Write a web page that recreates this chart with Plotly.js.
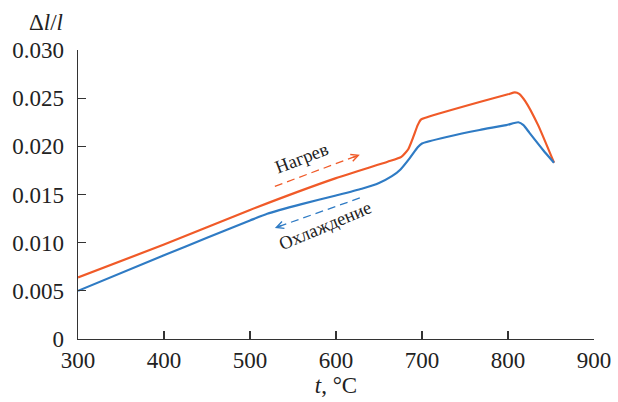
<!DOCTYPE html>
<html>
<head>
<meta charset="utf-8">
<script src="https://cdn.plot.ly/plotly-3.0.1.min.js"></script>
<style>html,body{margin:0;padding:0;background:#fff;}#chart{width:618px;height:402px;}</style>
</head>
<body>
<div id="chart"></div>
<script>
// Heating curve (Нагрев)
const heatT = [300, 400, 500, 600, 660, 676, 684, 690, 695, 699, 705, 767, 800, 808, 813, 820, 835, 853.5];
const heatV = [0.0064, 0.0098, 0.0134, 0.0167, 0.0184, 0.0189, 0.0197, 0.0210, 0.0222, 0.0228, 0.0230, 0.0246, 0.0254, 0.0256, 0.02545, 0.0247, 0.0222, 0.0183];
// Cooling curve (Охлаждение)
const coolT = [300, 400, 450, 500, 520, 560, 600, 630, 650, 665, 675, 686, 695, 700, 730, 767, 798, 812, 818, 825, 841, 853.5];
const coolV = [0.0050, 0.0087, 0.0105, 0.0123, 0.0130, 0.0140, 0.0149, 0.0156, 0.0162, 0.0169, 0.0176, 0.0188, 0.0199, 0.0203, 0.0210, 0.0217, 0.0222, 0.0225, 0.0222, 0.0214, 0.0196, 0.0183];
// Axis ticks
const xTicks = [300, 400, 500, 600, 700, 800, 900];
const yTicks = [0, 0.005, 0.010, 0.015, 0.020, 0.025, 0.030];
const yTickText = ['0', '0.005', '0.010', '0.015', '0.020', '0.025', '0.030'];
// Labels
const heatLabel = 'Нагрев';
const coolLabel = 'Охлаждение';
// Arrow anchors (data coords): [tailT, tailV, headT, headV]
const heatArrow = [528.9, 0.01585, 627.7, 0.01912];
const coolArrow = [627.7, 0.01464, 528.9, 0.01153];
const heatLabelPos = [561, 0.01878];
const coolLabelPos = [587, 0.01174];

const orange = '#f05a28';
const blue = '#2f7bc4';
const serif = 'Liberation Serif, Times New Roman, serif';

const traces = [
  {x: heatT, y: heatV, mode: 'lines', line: {color: orange, width: 2.2, shape: 'spline', smoothing: 0.5}, hoverinfo: 'skip'},
  {x: coolT, y: coolV, mode: 'lines', line: {color: blue, width: 2.2, shape: 'spline', smoothing: 0.5}, hoverinfo: 'skip'}
];

function arrowHead(arr, color) {
  const dx = arr[2] - arr[0];
  const dyPx = (arr[3] - arr[1]) * 9660; // up is positive
  const dxPx = dx * 0.8595;
  const len = Math.sqrt(dxPx * dxPx + dyPx * dyPx);
  return {
    x: arr[2], y: arr[3], xref: 'x', yref: 'y', text: '', showarrow: true,
    ax: -dxPx / len * 9, ay: dyPx / len * 9,
    arrowhead: 5, arrowsize: 1.1, arrowwidth: 1.3, arrowcolor: color
  };
}

const plotW = 618 - 78 - 24, plotH = 402 - 50 - 63;

const layout = {
  width: 618, height: 402,
  margin: {l: 78, r: 24, t: 50, b: 63},
  paper_bgcolor: '#fff', plot_bgcolor: '#fff',
  showlegend: false,
  font: {family: serif, size: 23, color: '#222'},
  xaxis: {
    range: [300, 900], tickvals: xTicks, ticktext: xTicks.map(String),
    ticks: 'inside', ticklen: 8, tickwidth: 1.3, tickcolor: '#333',
    showline: true, linecolor: '#333', linewidth: 1.3,
    showgrid: false, zeroline: false,
    tickfont: {family: serif, size: 23, color: '#222'},
    title: {text: '<i>t</i>, °C', font: {family: serif, size: 23, color: '#222'}, standoff: 5}
  },
  yaxis: {
    range: [0, 0.030], tickvals: yTicks, ticktext: yTickText,
    ticks: 'inside', ticklen: 8, tickwidth: 1.3, tickcolor: '#333',
    showline: true, linecolor: '#333', linewidth: 1.3,
    showgrid: false, zeroline: false, ticklabelstandoff: 8,
    tickfont: {family: serif, size: 23, color: '#222'}
  },
  shapes: [
    {type: 'line', xref: 'x', yref: 'y', x0: heatArrow[0], y0: heatArrow[1], x1: heatArrow[2], y1: heatArrow[3],
     line: {color: orange, width: 1.3, dash: '8px,5px'}},
    {type: 'line', xref: 'x', yref: 'y', x0: coolArrow[0], y0: coolArrow[1], x1: coolArrow[2], y1: coolArrow[3],
     line: {color: blue, width: 1.3, dash: '8px,5px'}}
  ],
  annotations: [
    arrowHead(heatArrow, orange),
    arrowHead(coolArrow, blue),
    {x: heatLabelPos[0], y: heatLabelPos[1], xref: 'x', yref: 'y', text: heatLabel, showarrow: false,
     textangle: -21, font: {family: serif, size: 18.5, color: '#222'}},
    {x: coolLabelPos[0], y: coolLabelPos[1], xref: 'x', yref: 'y', text: coolLabel, showarrow: false,
     textangle: -23, font: {family: serif, size: 18.5, color: '#222'}},
    {x: (46 - 78) / plotW, y: 1 + (50 - 22) / plotH, xref: 'paper', yref: 'paper',
     xanchor: 'center', yanchor: 'middle', text: 'Δ<i>l</i>/<i>l</i>', showarrow: false,
     font: {family: serif, size: 23, color: '#222'}}
  ]
};

Plotly.newPlot('chart', traces, layout, {displayModeBar: false, staticPlot: true});
</script>
</body>
</html>
